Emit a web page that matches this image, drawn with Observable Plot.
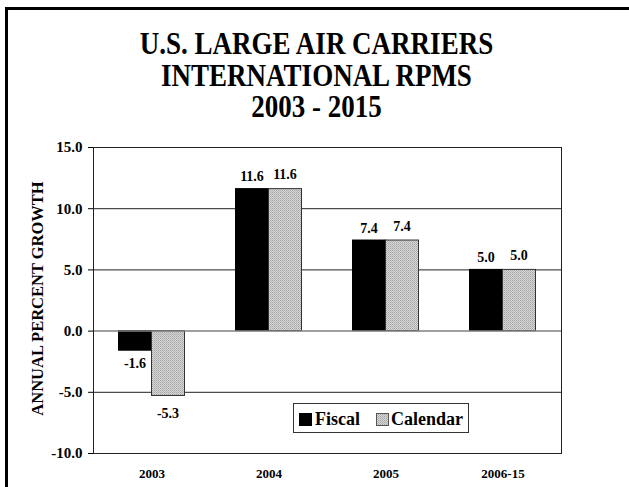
<!DOCTYPE html>
<html>
<head>
<meta charset="utf-8">
<script src="https://cdn.jsdelivr.net/npm/d3@7"></script>
<script src="https://cdn.jsdelivr.net/npm/@observablehq/plot@0.6"></script>
<style>
  html, body { margin: 0; padding: 0; background: white; }
  #wrap { position: relative; width: 629px; height: 487px; overflow: hidden; background: white; }
  #border { position: absolute; left: 5px; top: 7px; width: 700px; height: 600px;
            border-left: 3px solid black; border-top: 3px solid black; pointer-events: none; }
  #titlebox { position: relative; height: 130px; }
  #title { position: absolute; left: 2px; top: 29px; width: 629px; text-align: center;
           font-family: 'Liberation Serif', 'Times New Roman', Times, serif; font-weight: bold;
           font-size: 27px; line-height: 27.9px; transform: scaleY(1.13); transform-origin: top; color: black; }
  #chart svg { display: block; }
</style>
</head>
<body>
<svg width="0" height="0" style="position:absolute">
  <defs>
    <pattern id="hatch" patternUnits="userSpaceOnUse" width="2" height="2">
      <rect width="2" height="2" fill="#d6d6d6"></rect>
      <rect width="1" height="1" fill="#a4a4a4"></rect>
      <rect x="1" y="1" width="1" height="1" fill="#b8b8b8"></rect>
    </pattern>
  </defs>
</svg>
<div id="wrap">
  <div id="border"></div>
  <div id="titlebox"><div id="title">U.S. LARGE AIR CARRIERS<br>INTERNATIONAL RPMS<br>2003 - 2015</div></div>
  <div id="chart"></div>
</div>
<script>
const categories = ["2003", "2004", "2005", "2006-15"];
const fiscal = [-1.6, 11.6, 7.4, 5.0];
const calendar = [-5.3, 11.6, 7.4, 5.0];
const seriesNames = ["Fiscal", "Calendar"];
const yTicks = [-10, -5, 0, 5, 10, 15];
const gridValues = [-5, 5, 10];
const yLabel = "ANNUAL PERCENT GROWTH";

const rows = [];
categories.forEach((c, i) => {
  rows.push({category: c, series: "Fiscal", value: fiscal[i]});
  rows.push({category: c, series: "Calendar", value: calendar[i]});
});
const fis = rows.filter(d => d.series === "Fiscal");
const cal = rows.filter(d => d.series === "Calendar");
const fmt = d => d.toFixed(1);
const serif = "'Liberation Serif', 'Times New Roman', Times, serif";

const plot = Plot.plot({
  width: 629,
  height: 357,
  marginLeft: 93,
  marginRight: 68,
  marginTop: 17,
  marginBottom: 34,
  style: {fontFamily: serif, fontWeight: "bold", color: "black", background: "white", fontSize: "15px"},
  x: {type: "band", domain: categories, padding: 0},
  y: {domain: [-10, 15]},
  marks: [
    Plot.ruleY(gridValues, {stroke: "#222", strokeWidth: 1}),
    Plot.barY(fis, {x: "category", y: "value", fill: "black", stroke: "black", insetLeft: 25.5, insetRight: 58.5}),
    Plot.barY(cal, {x: "category", y: "value", fill: "url(#hatch)", stroke: "#333", strokeWidth: 1, insetLeft: 58.5, insetRight: 25.5}),
    Plot.ruleY([0], {stroke: "#808080", strokeWidth: 1.5}),
    Plot.frame({stroke: "#222"}),
    Plot.text(fis.filter(d => d.value >= 0), {x: "category", y: "value", text: d => fmt(d.value), dx: -17, dy: -8, lineAnchor: "bottom", fontSize: 14}),
    Plot.text(cal.filter(d => d.value >= 0), {x: "category", y: "value", text: d => fmt(d.value), dx: 16, dy: -10, lineAnchor: "bottom", fontSize: 14}),
    Plot.text(fis.filter(d => d.value < 0), {x: "category", y: "value", text: d => fmt(d.value), dx: -17, dy: 7, lineAnchor: "top", fontSize: 14}),
    Plot.text(cal.filter(d => d.value < 0), {x: "category", y: "value", text: d => fmt(d.value), dx: 16, dy: 12, lineAnchor: "top", fontSize: 14}),
    Plot.axisY({ticks: yTicks, tickFormat: fmt, tickSize: 5, tickPadding: 6, fontSize: 15, label: null}),
    Plot.axisX({tickSize: 0, tickPadding: 15, fontSize: 13, label: null}),
    Plot.text([yLabel], {frameAnchor: "left", dx: -56, dy: -2, rotate: -90, fontSize: 16.5, textAnchor: "middle", lineAnchor: "middle"})
  ]
});
document.getElementById("chart").appendChild(plot);

// legend
const svg = d3.select(plot);
const lg = svg.append("g").attr("font-family", serif).attr("font-weight", "bold").attr("text-anchor", "start");
lg.append("rect").attr("x", 293.5).attr("y", 273.5).attr("width", 175).attr("height", 29).attr("fill", "white").attr("stroke", "#333");
const legendItems = [
  {name: seriesNames[0], fill: "black", stroke: "black", sx: 299, tx: 315},
  {name: seriesNames[1], fill: "url(#hatch)", stroke: "#555", sx: 376, tx: 391}
];
legendItems.forEach(it => {
  lg.append("rect").attr("x", it.sx + 0.5).attr("y", 283.5).attr("width", 12).attr("height", 12).attr("fill", it.fill).attr("stroke", it.stroke);
  lg.append("text").attr("x", it.tx).attr("y", 294.5).attr("font-size", 18).attr("text-anchor", "start").attr("fill", "black").text(it.name);
});
</script>
</body>
</html>
